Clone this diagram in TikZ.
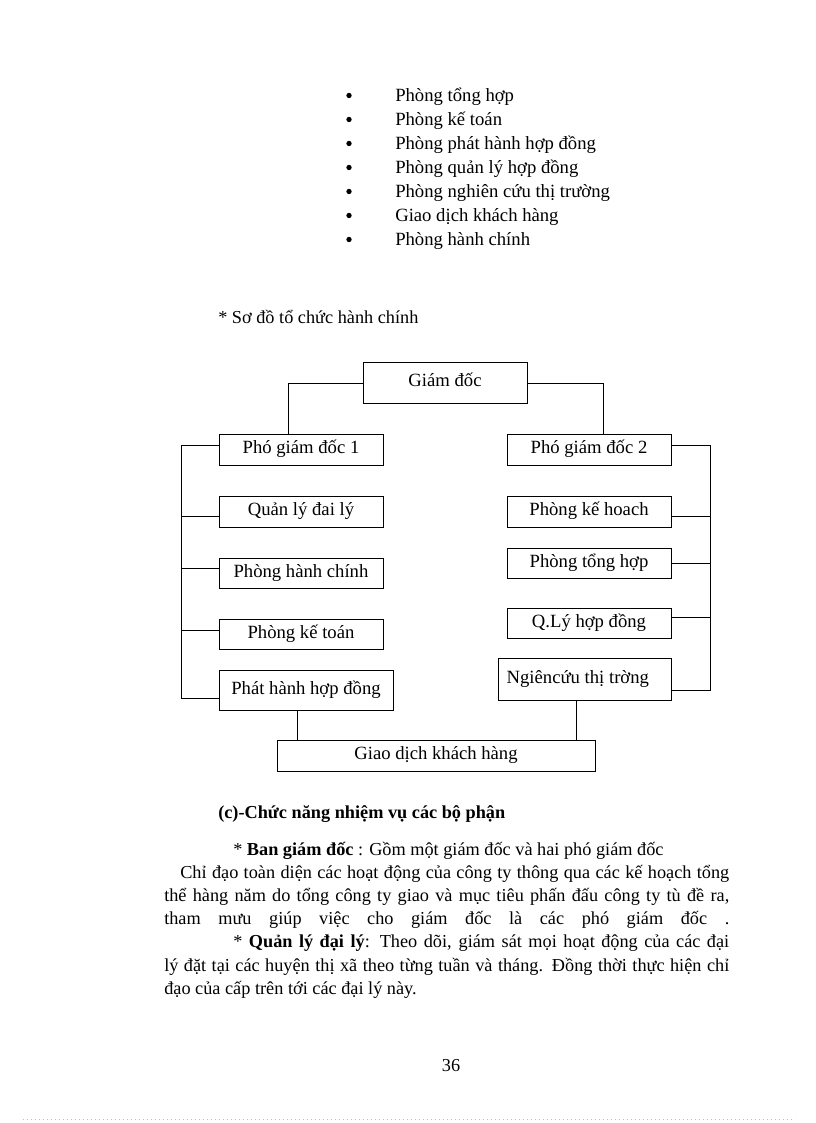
\documentclass[tikz,border=0pt]{standalone}
\usepackage{fontspec}
\setmainfont{Liberation Serif}
\begin{document}
\begin{tikzpicture}[x=0.75pt,y=-0.75pt,
  txt/.style={anchor=base west, inner sep=0, font=\fontsize{13.7}{16}\selectfont},
  listtxt/.style={anchor=base west, inner sep=0, font=\fontsize{14}{16}\selectfont},
  dotb/.style={circle, fill=black, inner sep=0, minimum size=4pt},
  ctr/.style={anchor=base, inner sep=0, font=\fontsize{13.7}{16}\selectfont},
  orgbox/.style={draw, line width=0.7pt, inner sep=0, outer sep=0, text height=9.5pt, text depth=3pt, font=\fontsize{14}{16}\selectfont},
  conn/.style={line width=0.7pt}]
\newcommand\obox[6]{\node[orgbox, minimum width={(#4-#2)*0.75pt}, minimum height={(#5-#3)*0.75pt}] (#1) at ({(#2+#4)/2},{(#3+#5)/2}) {#6};}
\useasboundingbox (0,0) rectangle (816,1123);
\fill[white] (0,0) rectangle (816,1123);

% bullet list
\foreach \t [count=\i from 0] in {Phòng tổng hợp, Phòng kế toán, Phòng phát hành hợp đồng, Phòng quản lý hợp đồng, Phòng nghiên cứu thị trường, Giao dịch khách hàng, Phòng hành chính}{
  \node[dotb] (b\i) at (349,{95.5+24*\i}) {};
  \node[listtxt] (t\i) at (395,{101.5+24*\i}) {\t};
}

\node[txt] (title) at (218,323) {* Sơ đồ tổ chức hành chính};

% org chart boxes
\obox{gd}{363}{362}{527}{403}{Giám đốc}
\obox{pgd1}{219}{434}{383}{465}{Phó giám đốc 1}
\obox{pgd2}{507}{434}{671}{465}{Phó giám đốc 2}
\obox{qldl}{219}{496}{383}{527}{Quản lý đai lý}
\obox{phc}{219}{558}{383}{588}{Phòng hành chính}
\obox{pkt}{219}{619}{383}{649}{Phòng kế toán}
\obox{phhd}{219}{670}{393}{710}{Phát hành hợp đồng}
\obox{pkh}{507}{496}{671}{527}{Phòng kế hoach}
\obox{pth}{507}{548}{671}{578}{Phòng tổng hợp}
\obox{qlhd}{507}{608}{671}{638}{Q.Lý hợp đồng}
\obox{nctt}{498}{658}{671}{700}{Ngiêncứu thị trờng\hspace*{10pt}}
\obox{gdkh}{277}{740}{595}{771}{Giao dịch khách hàng}

% connectors
\coordinate (tl) at (288,383);
\coordinate (tr) at (603,383);
\draw[conn] (tl -| gd.west) -- (tl) -- (tl |- pgd1.north);
\draw[conn] (tr -| gd.east) -- (tr) -- (tr |- pgd2.north);

\coordinate (l1) at (181,445);
\coordinate (l2) at (181,516);
\coordinate (l3) at (181,568);
\coordinate (l4) at (181,630);
\coordinate (l5) at (181,698);
\draw[conn] (l1 -| pgd1.west) -- (l1) -- (l5) -- (l5 -| phhd.west);
\draw[conn] (l2) -- (l2 -| qldl.west);
\draw[conn] (l3) -- (l3 -| phc.west);
\draw[conn] (l4) -- (l4 -| pkt.west);

\coordinate (r1) at (710,445);
\coordinate (r2) at (710,516);
\coordinate (r3) at (710,563);
\coordinate (r4) at (710,617);
\coordinate (r5) at (710,690);
\draw[conn] (r1 -| pgd2.east) -- (r1) -- (r5) -- (r5 -| nctt.east);
\draw[conn] (r2) -- (r2 -| pkh.east);
\draw[conn] (r3) -- (r3 -| pth.east);
\draw[conn] (r4) -- (r4 -| qlhd.east);

\coordinate (bl) at (297,720);
\coordinate (br) at (576,720);
\draw[conn] (bl |- phhd.south) -- (bl |- gdkh.north);
\draw[conn] (br |- nctt.south) -- (br |- gdkh.north);

% text below
\node[txt] (c) at (218,818) {\textbf{(c)-Chức năng nhiệm vụ các bộ phận}};
\node[txt] (p0) at (233,855) {* \textbf{Ban giám đốc} : Gồm một giám đốc và hai phó giám đốc};
\node[txt] (p1) at (180,878) {\makebox[411.75pt][s]{Chỉ đạo toàn diện các hoạt động của công ty thông qua các kế hoạch tổng}};
\node[txt] (p2) at (164,901) {\makebox[423.75pt][s]{thể hàng năm do tổng công ty giao và mục tiêu phấn đấu công ty tù đề ra,}};
\node[txt] (p3) at (164,924) {\makebox[423.75pt][s]{tham mưu giúp việc cho giám đốc là các phó giám đốc .}};
\node[txt] (p4) at (233,947) {\makebox[372pt][s]{* \textbf{Quản lý đại lý}: Theo dõi, giám sát mọi hoạt động của các đại}};
\node[txt] (p5) at (164,971) {\makebox[423.75pt][s]{lý đặt tại các huyện thị xã theo từng tuần và tháng. Đồng thời thực hiện chỉ}};
\node[txt] (p6) at (164,994) {đạo của cấp trên tới các đại lý này.};

\node[ctr] (pn) at (451,1071) {36};

\draw[gray!50, line width=0.4pt, dash pattern=on 0.6pt off 2.4pt] (23,1119) -- (795,1119);
\end{tikzpicture}
\end{document}
